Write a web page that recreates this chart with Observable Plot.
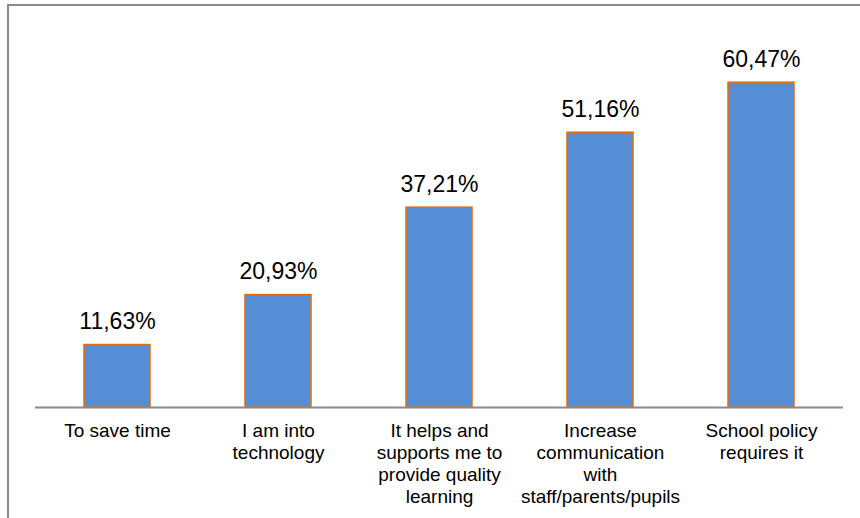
<!DOCTYPE html>
<html>
<head>
<meta charset="utf-8">
<script src="https://cdn.jsdelivr.net/npm/d3@7"></script>
<script src="https://cdn.jsdelivr.net/npm/@observablehq/plot@0.6"></script>
<style>
  html, body { margin: 0; padding: 0; background: #fff; }
  #wrap { position: relative; width: 860px; height: 518px; overflow: hidden; }
  #border { position: absolute; left: 7px; top: 4px; width: 900px; height: 600px;
            border-left: 2px solid #8a8a8a; border-top: 2px solid #8a8a8a; pointer-events: none; }
  #chart { position: absolute; left: 0; top: 0; }
</style>
</head>
<body>
<div id="wrap"><div id="chart"></div><div id="border"></div></div>
<script>
const categories = [
  "To save time",
  "I am into technology",
  "It helps and supports me to provide quality learning",
  "Increase communication with staff/parents/pupils",
  "School policy requires it"
];
const tickLabels = [
  "To save time",
  "I am into\ntechnology",
  "It helps and\nsupports me to\nprovide quality\nlearning",
  "Increase\ncommunication\nwith\nstaff/parents/pupils",
  "School policy\nrequires it"
];
const values = [11.63, 20.93, 37.21, 51.16, 60.47];
const valueLabels = ["11,63%", "20,93%", "37,21%", "51,16%", "60,47%"];

const data = categories.map((c, i) => ({cat: c, value: values[i], label: valueLabels[i]}));
const labelOf = new Map(categories.map((c, i) => [c, tickLabels[i]]));

const chart = Plot.plot({
  width: 860,
  height: 518,
  marginLeft: 35,
  marginRight: 17,
  marginTop: 31,
  marginBottom: 111,
  style: {fontFamily: "Liberation Sans, Arial, sans-serif", background: "transparent"},
  x: {domain: categories, paddingInner: 0.59, paddingOuter: 0.295, axis: null},
  y: {domain: [0, 70], axis: null},
  marks: [
    Plot.barY(data, {x: "cat", y: "value", fill: "#558ed5", stroke: "#e46c0a", strokeWidth: 1.5}),
    Plot.ruleY([0], {stroke: "#8a8a8a", strokeWidth: 2}),
    Plot.text(data, {x: "cat", y: "value", text: "label", dy: -23, fontSize: 23, fill: "#000"}),
    Plot.axisX({
      label: null,
      tickSize: 0,
      tickPadding: 14,
      lineAnchor: "top",
      lineHeight: 1.16,
      fontSize: 19,
      fill: "#000",
      tickFormat: (d) => labelOf.get(d)
    })
  ]
});
document.getElementById("chart").appendChild(chart);
</script>
</body>
</html>
